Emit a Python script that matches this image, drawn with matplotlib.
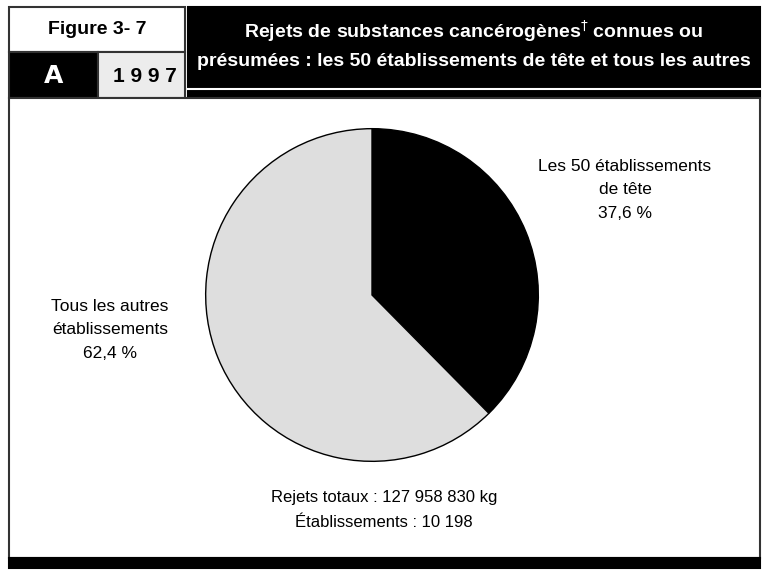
import matplotlib
matplotlib.use("Agg")
import matplotlib.pyplot as plt
from matplotlib.patches import Rectangle

# data
slice_labels = ["Les 50 établissements\nde tête", "Tous les autres\nétablissements"]
slice_shares = [37.6, 62.4]
slice_colors = ["#000000", "#dedede"]
figure_id = "Figure 3- 7"
panel_letter = "A"
year = "1 9 9 7"
title_lines = ["Rejets de substances cancérogènes$^{\\dagger}$ connues ou",
               "présumées : les 50 établissements de tête et tous les autres"]
totals = ["Rejets totaux : 127 958 830 kg", "Établissements : 10 198"]

plt.rcParams["font.family"] = ["Liberation Sans", "DejaVu Sans"]

W, H = 762, 572
fig = plt.figure(figsize=(W / 100, H / 100), dpi=100)
bg = fig.add_axes([0, 0, 1, 1])
bg.set_xlim(0, W)
bg.set_ylim(H, 0)
bg.axis("off")


def box(x0, y0, x1, y1, fc, ec="#333333", lw=1.5):
    bg.add_patch(Rectangle((x0, y0), x1 - x0, y1 - y0, facecolor=fc,
                           edgecolor=ec, linewidth=lw))


# header
box(9, 7, 185, 52, "white")
box(9, 52, 98, 98, "black")
box(98, 52, 185, 98, "#ececec")
box(188, 7, 760, 98, "black", ec="black")
bg.plot([188, 760], [89, 89], color="white", lw=1.5)

bg.text(97, 30, figure_id, ha="center", va="center", fontsize=14, weight="bold")
bg.text(54, 76, panel_letter, ha="center", va="center", fontsize=18,
        weight="bold", color="white", family="DejaVu Sans")
bg.text(145, 76, year, ha="center", va="center", fontsize=15, weight="bold")
bg.text(474, 31, title_lines[0], ha="center", va="center", fontsize=14,
        weight="bold", color="white")
bg.text(474, 62, title_lines[1], ha="center", va="center", fontsize=14,
        weight="bold", color="white")

# main panel
box(9, 98, 760, 558, "white")
box(9, 558, 760, 568, "black", ec="black")

# pie
cx, cy, r = 372, 295, 168
pax = fig.add_axes([(cx - r) / W, 1 - (cy + r) / H, 2 * r / W, 2 * r / H])
pax.pie(slice_shares, colors=slice_colors, startangle=90, counterclock=False,
        wedgeprops=dict(edgecolor="black", linewidth=1))
pax.set_xlim(-1.01, 1.01)
pax.set_ylim(-1.01, 1.01)

pct = [f"{v:.1f}".replace(".", ",") + " %" for v in slice_shares]
bg.text(625, 190, slice_labels[0] + "\n" + pct[0], ha="center", va="center",
        fontsize=12.5, linespacing=1.7)
bg.text(110, 330, slice_labels[1] + "\n" + pct[1], ha="center", va="center",
        fontsize=12.5, linespacing=1.7)

bg.text(384, 510, "\n".join(totals), ha="center", va="center", fontsize=12,
        linespacing=1.8)

fig.savefig("out.png", dpi=100)
